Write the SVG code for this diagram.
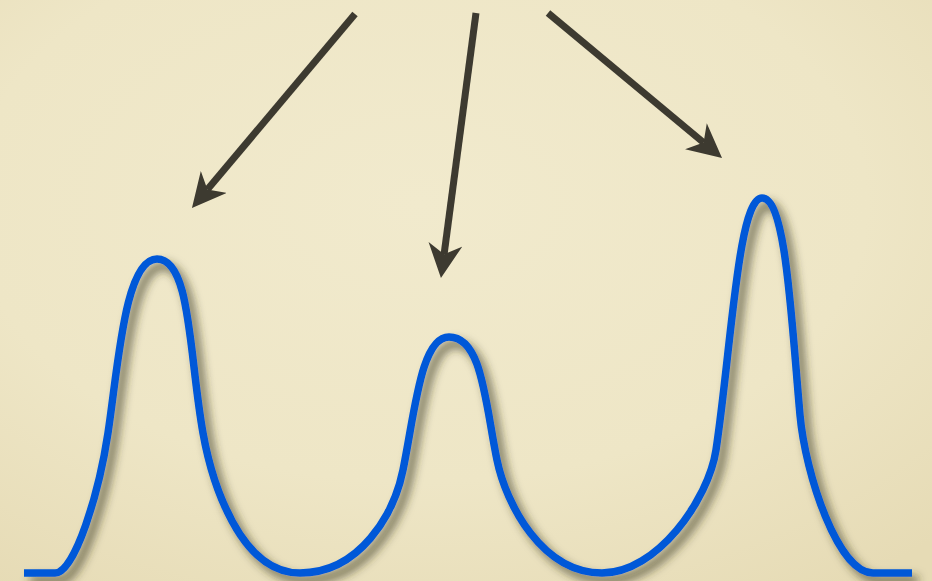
<svg xmlns="http://www.w3.org/2000/svg" width="932" height="581" viewBox="0 0 932 581">
  <defs>
    <radialGradient id="bg" cx="0.45" cy="0.35" r="0.8">
      <stop offset="0" stop-color="#f1eacd"/>
      <stop offset="0.6" stop-color="#eee6c6"/>
      <stop offset="1" stop-color="#e6dbb5"/>
    </radialGradient>
    <filter id="shadow" x="-10%" y="-10%" width="120%" height="120%">
      <feDropShadow dx="6" dy="7" stdDeviation="5" flood-color="#35301c" flood-opacity="0.7"/>
    </filter>
    <marker id="head" viewBox="0 0 34 34" refX="10" refY="17" markerWidth="34" markerHeight="34" markerUnits="userSpaceOnUse" orient="auto">
      <path d="M34,17 L0,0 L10,17 L0,34 Z" fill="#3d3a30"/>
    </marker>
  </defs>
  <style>
    .arrow { stroke: #3d3a30; stroke-width: 7; fill: none; stroke-linecap: butt; marker-end: url(#head); }
    .curve { stroke: #0058d8; stroke-width: 7.5; fill: none; stroke-linejoin: round; }
  </style>
  <rect x="0" y="0" width="932" height="581" fill="url(#bg)"/>

  <g id="spectrum" filter="url(#shadow)">
    <path class="curve" d="M24,573 L55,573
      C75,573 99.1,492.3 108,433
      C118.4,363.8 125,259 157,259
      C191,259 188.9,354.3 203,433
      C211.8,482.2 240,573 300,573
      C360,573 394,514.1 403,470
      C415,411.2 421,337 449,337
      C482,337 485,401.2 497,460
      C506,504.1 542,573 602,573
      C657,573 708.5,499.5 716,450
      C731,351 738,198 762,198
      C786,198 791,315.4 800,415
      C805.4,474.8 838,573 873,573
      L912,573"/>
  </g>

  <g id="connectors">
    <line class="arrow" x1="355" y1="14" x2="207.4" y2="189.6"/>
    <line class="arrow" x1="476" y1="13" x2="444.1" y2="254.2"/>
    <line class="arrow" x1="548" y1="13" x2="703.6" y2="142.6"/>
  </g>
</svg>
